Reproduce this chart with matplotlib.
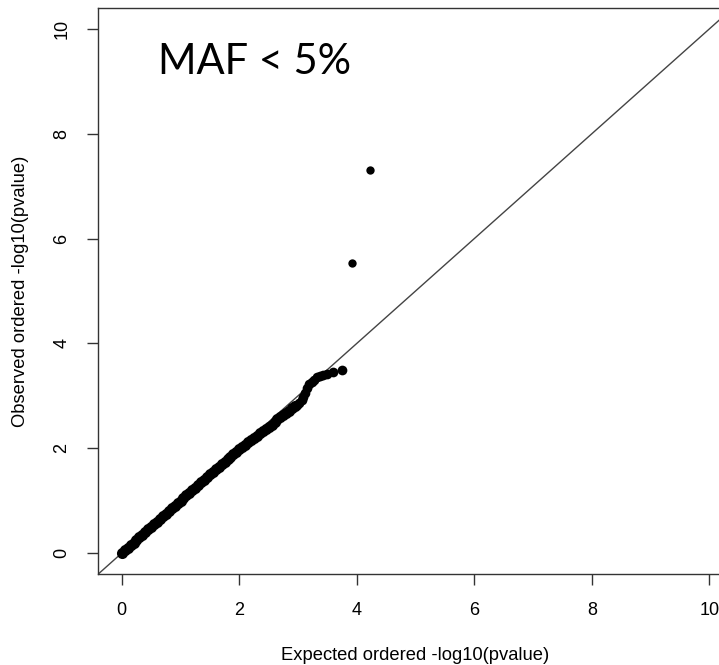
import numpy as np
import matplotlib
matplotlib.use("Agg")
import matplotlib.pyplot as plt

# expected vs observed -log10(p)
exp_band = [0.00, 0.05, 0.10, 0.15, 0.20, 0.25, 0.30, 0.35, 0.40, 0.45,
            0.50, 0.55, 0.60, 0.65, 0.70, 0.75, 0.80, 0.85, 0.90, 0.95,
            1.00, 1.05, 1.10, 1.15, 1.20, 1.25, 1.30, 1.35, 1.40, 1.45,
            1.50, 1.55, 1.60, 1.65, 1.70, 1.75, 1.80, 1.85, 1.90, 1.95,
            2.00, 2.05, 2.10, 2.15, 2.20, 2.25, 2.30, 2.35, 2.40, 2.45,
            2.50, 2.55, 2.60, 2.65, 2.70, 2.75, 2.80, 2.85, 2.90, 2.95]
obs_band = [0.01, 0.05, 0.10, 0.15, 0.20, 0.25, 0.30, 0.35, 0.40, 0.45,
            0.50, 0.55, 0.60, 0.65, 0.70, 0.75, 0.80, 0.85, 0.90, 0.95,
            1.00, 1.05, 1.10, 1.15, 1.20, 1.25, 1.30, 1.35, 1.40, 1.45,
            1.50, 1.55, 1.60, 1.65, 1.70, 1.74, 1.79, 1.84, 1.89, 1.93,
            1.98, 2.03, 2.07, 2.12, 2.16, 2.20, 2.24, 2.29, 2.33, 2.37,
            2.41, 2.45, 2.50, 2.55, 2.59, 2.63, 2.67, 2.71, 2.76, 2.80]
exp_tail = [2.98, 3.02, 3.06, 3.09, 3.12, 3.15, 3.19, 3.23, 3.27, 3.32,
            3.37, 3.43, 3.49, 3.60, 3.74]
obs_tail = [2.83, 2.87, 2.92, 2.98, 3.06, 3.14, 3.22, 3.27, 3.31, 3.35,
            3.38, 3.39, 3.41, 3.45, 3.49]
exp_top = [3.92, 4.22]
obs_top = [5.53, 7.30]

ticks = [0, 2, 4, 6, 8, 10]

plt.rcParams['font.family'] = ['Liberation Sans', 'DejaVu Sans']

fig = plt.figure(figsize=(7.19, 6.65), dpi=100)
# box runs past the right edge of the picture (cropped)
ax = fig.add_axes([98.3 / 719, 91 / 665, 634.5 / 719, 566 / 665])

ax.plot([-0.4, 10.4], [-0.4, 10.4], color="#444444", lw=1.0, zorder=1)
ax.plot(exp_band, obs_band, "o", color="black", ms=8.0, mec="none", zorder=2)
ax.plot(exp_tail, obs_tail, "o", color="black", ms=7.0, mec="none", zorder=2)
ax.plot(exp_top, obs_top, "o", color="black", ms=6.0, mec="none", zorder=2)

ax.set_xlim(-0.4, 10.4)
ax.set_ylim(-0.4, 10.4)
ax.set_xticks(ticks)
ax.set_yticks(ticks)
ax.tick_params(direction="out", length=8, width=1.0, color="#333333",
               labelsize=13, pad=12)
for lab in ax.get_yticklabels():
    lab.set_rotation(90)
    lab.set_va("center")
for sp in ax.spines.values():
    sp.set_color("#333333")
    sp.set_linewidth(1.0)

ax.set_xlabel("Expected ordered -log10(pvalue)", fontsize=13.2, labelpad=20)
ax.set_ylabel("Observed ordered -log10(pvalue)", fontsize=13.2, labelpad=18)

fig.text(158 / 719, 1 - 62 / 665, "MAF < 5%", fontsize=30, family="Lato",
         va="center", ha="left")

fig.savefig("out.png", dpi=100)
